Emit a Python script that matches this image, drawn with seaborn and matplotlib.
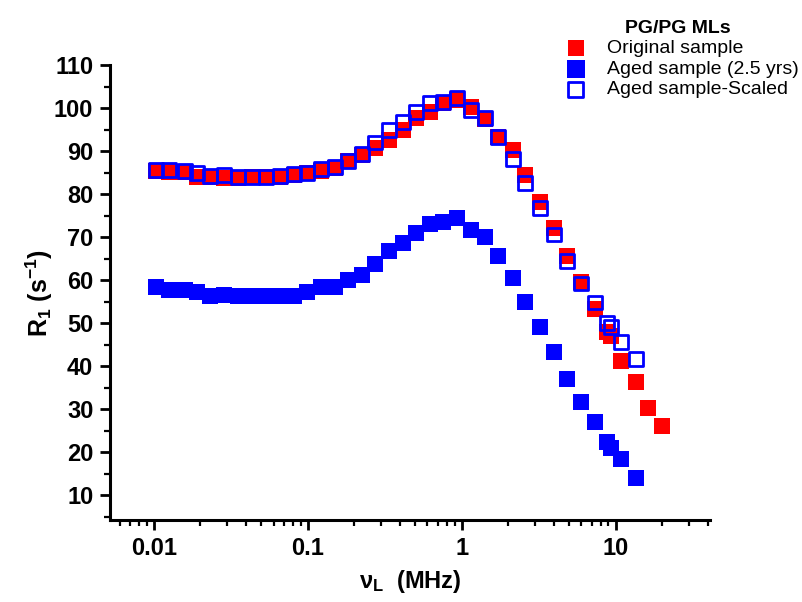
import numpy as np
import pandas as pd
import seaborn as sns
import matplotlib
matplotlib.use("Agg")
import matplotlib.pyplot as plt
from matplotlib.ticker import LogLocator, MultipleLocator, FixedLocator

sns.set_style("ticks", {"text.color": "black", "axes.labelcolor": "black",
                        "xtick.color": "black", "ytick.color": "black",
                        "axes.edgecolor": "black"})
plt.rcParams['font.family'] = ['Liberation Sans', 'DejaVu Sans']
plt.rcParams['mathtext.fontset'] = 'custom'
plt.rcParams['mathtext.rm'] = 'Liberation Sans:bold'
plt.rcParams['mathtext.bf'] = 'Liberation Sans:bold'
plt.rcParams['mathtext.default'] = 'bf'

# Larmor frequency (MHz)
freq = [0.0104, 0.01265, 0.01607, 0.01923, 0.02334, 0.02877, 0.03548, 0.04375,
        0.05395, 0.06653, 0.08185, 0.0995, 0.1227, 0.1513, 0.1837, 0.2265,
        0.2752, 0.339, 0.4181, 0.508, 0.6266, 0.7607, 0.9376, 1.156, 1.425,
        1.731, 2.168, 2.593, 3.245, 4.0, 4.857, 5.99, 7.39, 8.84, 9.4,
        10.89, 13.62]
freq_extra = [16.3, 20.1]

# R1 (s^-1)
original = [85.4, 85.2, 85.2, 84.0, 84.0, 83.8, 83.8, 84.0, 84.0, 84.0, 84.5,
            85.0, 85.4, 86.1, 87.7, 89.1, 90.7, 92.6, 94.9, 97.7, 99.1, 101.2,
            101.9, 100.3, 97.5, 93.3, 90.3, 84.5, 78.2, 72.2, 65.5, 59.5, 53.2,
            48.0, 47.0, 41.1, 36.2]
original_extra = [30.2, 26.0]

aged = [58.3, 57.6, 57.8, 57.3, 56.2, 56.6, 56.2, 56.2, 56.2, 56.2, 56.2,
        57.3, 58.3, 58.3, 60.1, 61.3, 63.8, 66.8, 68.7, 71.0, 73.1, 73.6,
        74.5, 71.7, 70.1, 65.5, 60.5, 55.0, 49.0, 43.2, 36.9, 31.6, 26.9,
        22.3, 21.0, 18.4, 14.0]

aged_scaled = [85.6, 85.6, 85.4, 84.9, 84.2, 84.5, 84.0, 84.0, 84.0, 84.2, 84.7,
               85.0, 85.9, 86.3, 87.7, 89.3, 92.0, 94.9, 96.8, 99.1, 101.2,
               101.4, 102.3, 99.6, 97.7, 93.3, 88.2, 82.6, 76.8, 70.6, 64.5,
               59.2, 54.8, 50.1, 49.0, 45.7, 41.6]

df_orig = pd.DataFrame({"f": freq + freq_extra, "r1": original + original_extra})
df_aged = pd.DataFrame({"f": freq, "r1": aged})
df_scaled = pd.DataFrame({"f": freq, "r1": aged_scaled})

fig = plt.figure(figsize=(8.03, 6.02), dpi=100)
ax = fig.add_axes([0.137, 0.136, 0.747, 0.756])

sns.scatterplot(data=df_orig, x="f", y="r1", ax=ax, marker="s", s=120,
                color="#ff0000", edgecolor="#ff0000", linewidth=0,
                label="Original sample")
sns.scatterplot(data=df_aged, x="f", y="r1", ax=ax, marker="s", s=130,
                color="#0000ff", edgecolor="#0000ff", linewidth=0,
                label="Aged sample (2.5 yrs)")
sns.scatterplot(data=df_scaled, x="f", y="r1", ax=ax, marker="s", s=100,
                facecolor="none", edgecolor="#0000ff", linewidth=2,
                label="Aged sample-Scaled")

ax.set_xscale("log")
ax.set_xlim(0.0052, 41)
ax.set_ylim(4.2, 110)
ax.xaxis.set_major_locator(FixedLocator([0.01, 0.1, 1, 10]))
ax.xaxis.set_minor_locator(LogLocator(base=10, subs=np.arange(2, 10)))
ax.set_xticklabels(["0.01", "0.1", "1", "10"])
ax.yaxis.set_major_locator(FixedLocator(np.arange(10, 111, 10)))
ax.yaxis.set_minor_locator(MultipleLocator(5))

for lab in ax.get_xticklabels() + ax.get_yticklabels():
    lab.set_fontweight("bold")
    lab.set_fontsize(17)
ax.tick_params(which="major", direction="out", length=7, width=2, pad=5)
ax.tick_params(which="minor", direction="out", length=4, width=1.6)

sns.despine(ax=ax)
ax.spines["left"].set_linewidth(2.2)
ax.spines["bottom"].set_linewidth(2.2)

ax.set_xlabel(r"ν$_L$  (MHz)", fontsize=17, fontweight="bold", labelpad=6)
ax.set_ylabel(r"R$_1$ (s$^{-1}$)", fontsize=18, fontweight="bold", labelpad=-1)

leg = ax.legend(title="PG/PG MLs", frameon=False, fontsize=14,
                title_fontproperties={"weight": "bold", "size": 14},
                loc="upper left", bbox_to_anchor=(0.715, 1.138),
                handletextpad=0.6, labelspacing=0.15, markerscale=1.1)

fig.savefig("out.png", dpi=100)
